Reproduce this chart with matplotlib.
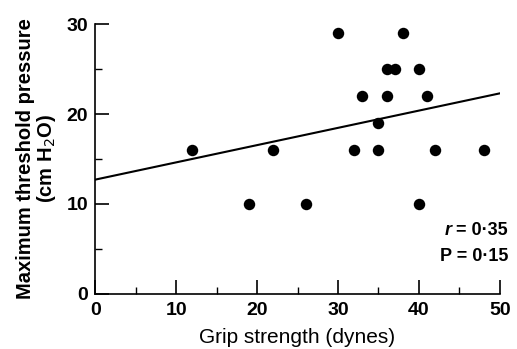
import matplotlib
matplotlib.use("Agg")
import matplotlib.pyplot as plt
import numpy as np

# Data
grip = [12, 19, 22, 26, 30, 32, 33, 35, 35, 36, 36, 37, 38, 40, 40, 41, 42, 48]
pressure = [16, 10, 16, 10, 29, 16, 22, 19, 16, 25, 22, 25, 29, 25, 10, 22, 16, 16]
fit_x = [0, 50]
fit_y = [12.7, 22.3]
xticks = [0, 10, 20, 30, 40, 50]
yticks = [0, 10, 20, 30]

plt.rcParams['font.family'] = ['Liberation Sans', 'DejaVu Sans']

fig = plt.figure(figsize=(5.17, 3.49), dpi=100)
ax = fig.add_axes([0.184, 0.158, 0.783, 0.773])

ax.scatter(grip, pressure, s=68, color='black', zorder=3, linewidths=0)
ax.plot(fit_x, fit_y, color='black', lw=1.5)

ax.set_xlim(0, 50)
ax.set_ylim(0, 30)
ax.set_xticks(xticks)
ax.set_yticks(yticks)
ax.set_xticks(np.arange(5, 50, 10), minor=True)
ax.set_yticks(np.arange(5, 30, 10), minor=True)
ax.tick_params(which='major', direction='in', length=10, width=1.2, labelsize=14)
ax.tick_params(axis='x', which='major', pad=6)
ax.tick_params(axis='y', which='major', pad=5)
ax.tick_params(which='minor', direction='in', length=5, width=1.0)
for lab in ax.get_xticklabels() + ax.get_yticklabels():
    lab.set_fontweight('bold')

for s in ['top', 'right']:
    ax.spines[s].set_visible(False)
for s in ['left', 'bottom']:
    ax.spines[s].set_linewidth(1.2)

ax.set_xlabel('Grip strength (dynes)', fontsize=15, labelpad=6)
ax.set_ylabel('Maximum threshold pressure\n(cm H$_2$O)', fontsize=14.5,
              fontweight='bold', labelpad=6, linespacing=1.0)

t1 = ax.text(51, 7.1, ' = 0·35', ha='right', va='center', fontsize=13, fontweight='bold',
             clip_on=False)
ax.annotate('r', xy=(0, 0.5), xycoords=t1, ha='right', va='center',
            fontsize=13, fontweight='bold', fontstyle='italic')
ax.text(51, 4.1, 'P = 0·15', ha='right', va='center', fontsize=13, fontweight='bold',
        clip_on=False)

fig.savefig('out.png', dpi=100)
